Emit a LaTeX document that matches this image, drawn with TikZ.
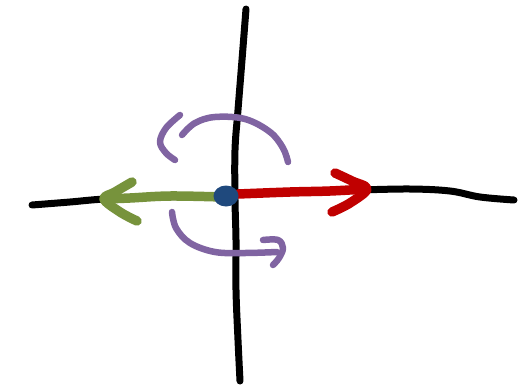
\documentclass[tikz,border=0pt]{standalone}
\definecolor{inkpurple}{HTML}{8064A2}
\definecolor{inkgreen}{HTML}{77933C}
\definecolor{inkred}{HTML}{C00000}
\definecolor{inkblue}{HTML}{1F497D}
\tikzset{
  axisline/.style={draw=black,line width=7pt,line cap=round,line join=round},
  rotline/.style={draw=inkpurple,line width=6.5pt,line cap=round,line join=round},
  greenvec/.style={draw=inkgreen,line width=9.5pt,line cap=round,line join=round},
  redvec/.style={draw=inkred,line width=9.5pt,line cap=round,line join=round},
}
\begin{document}
\begin{tikzpicture}[x=1pt,y=-1pt]
\useasboundingbox (0,0) rectangle (519,391);
% vertical axis
\path[axisline] plot[smooth,tension=0.6] coordinates {(246,9) (242,60) (238,110) (235,150) (235,200) (236,240) (236,290) (238,340) (240,381)};
% horizontal axis
\path[axisline] plot[smooth,tension=0.6] coordinates {(32,205) (70,202) (105,199) (160,197) (220,196)};
\path[axisline] plot[smooth,tension=0.6] coordinates {(360,190) (410,189) (450,191) (480,197) (514,200)};
% green arrow
\path[greenvec] plot[smooth,tension=0.6] coordinates {(222,197) (170,196) (130,198) (104,199)};
\path[greenvec] plot[smooth,tension=0.6] coordinates {(132,182) (115,192) (104,199) (120,212) (137,221)};
% red arrow
\path[redvec] plot[smooth,tension=0.6] coordinates {(238,194) (290,192) (330,191) (366,189)};
\path[redvec] plot[smooth,tension=0.6] coordinates {(335,173) (352,181) (367,189) (350,203) (332,212)};
% blue dot
\fill[inkblue] (226,196) ellipse[x radius=12.5,y radius=10.5];
% top rotation arrow
\path[rotline] plot[smooth,tension=0.6] coordinates {(182,135) (195,123) (215,117) (245,119) (270,132) (283,148) (288,162)};
\path[rotline] plot[smooth,tension=0.6] coordinates {(180,115) (166,128) (160,142) (166,153) (175,160)};
% bottom rotation arrow
\path[rotline] plot[smooth,tension=0.6] coordinates {(172,212) (176,228) (190,243) (215,252) (245,253) (277,252)};
\path[rotline] plot[smooth,tension=0.6] coordinates {(263,240) (278,240) (283,248) (279,258) (273,265)};
\end{tikzpicture}
\end{document}
